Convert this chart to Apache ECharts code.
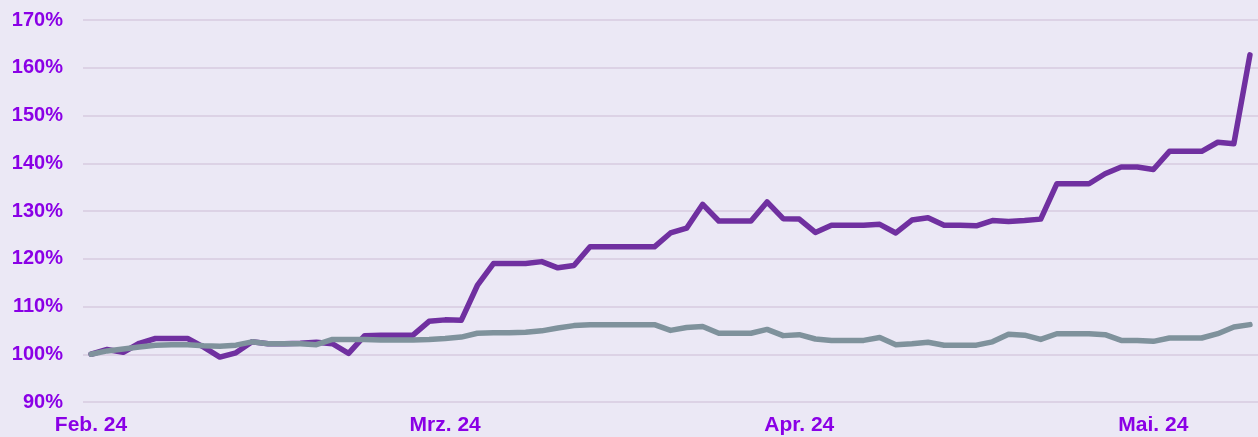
<!DOCTYPE html>
<html>
<head>
<meta charset="utf-8">
<style>
  html, body { margin: 0; padding: 0; background: #ebe8f5; }
  #chart { width: 1258px; height: 437px; }
</style>
<script src="https://cdn.jsdelivr.net/npm/echarts@6/dist/echarts.min.js"></script>
</head>
<body>
<div id="chart"></div>
<script>
// month labels and the category index where each month starts
const monthLabels = ['Feb. 24', 'Mrz. 24', 'Apr. 24', 'Mai. 24'];
const monthStart = [0, 22, 44, 66];

// index values (percent, start = 100)
const purpleValues = [
    100.0, 101.0, 100.4, 102.3, 103.3, 103.3, 103.3, 101.5, 99.4, 100.3,
    102.6, 102.2, 102.2, 102.3, 102.5, 102.2, 100.2, 103.9, 104.0, 104.0,
    104.0, 106.9, 107.2, 107.1, 114.4, 119.0, 119.0, 119.0, 119.4, 118.1,
    118.6, 122.5, 122.5, 122.5, 122.5, 122.5, 125.4, 126.4, 131.4, 127.9,
    127.9, 127.9, 131.9, 128.4, 128.3, 125.5, 127.0, 127.0, 127.0, 127.2,
    125.4, 128.1, 128.6, 127.0, 127.0, 126.9, 128.0, 127.8, 128.0, 128.3,
    135.7, 135.7, 135.7, 137.8, 139.2, 139.2, 138.7, 142.5, 142.5, 142.5,
    144.4, 144.1, 162.7
];
const grayValues = [
    100.0, 100.7, 101.1, 101.5, 101.9, 102.0, 102.0, 101.8, 101.7, 101.9,
    102.6, 102.2, 102.2, 102.2, 102.0, 103.1, 103.1, 103.1, 103.0, 103.0,
    103.0, 103.1, 103.3, 103.6, 104.4, 104.5, 104.5, 104.6, 104.9, 105.5,
    106.0, 106.2, 106.2, 106.2, 106.2, 106.2, 105.0, 105.6, 105.8, 104.4,
    104.4, 104.4, 105.2, 103.9, 104.1, 103.2, 102.9, 102.9, 102.9, 103.5,
    102.0, 102.2, 102.5, 101.9, 101.9, 101.9, 102.6, 104.2, 104.0, 103.1,
    104.3, 104.3, 104.3, 104.1, 102.9, 102.9, 102.7, 103.4, 103.4, 103.4,
    104.3, 105.7, 106.2
];

const categories = purpleValues.map((v, i) => String(i));

const chart = echarts.init(document.getElementById('chart'));

const labelFont = {
    color: '#8a00e6',
    fontFamily: 'Liberation Sans, Arial, sans-serif',
    fontWeight: 'bold'
};

const option = {
    backgroundColor: '#ebe8f5',
    animation: false,
    grid: {
        left: 83,
        right: 0,
        top: 20,
        bottom: 35
    },
    xAxis: {
        type: 'category',
        data: categories,
        boundaryGap: true,
        axisLine: { show: false },
        axisTick: { show: false },
        splitLine: { show: false },
        axisLabel: Object.assign({}, labelFont, {
            fontSize: 21,
            margin: 13,
            interval: (idx) => monthStart.includes(idx),
            formatter: (value, idx) => {
                const k = monthStart.indexOf(Number(value));
                return k >= 0 ? monthLabels[k] : '';
            }
        })
    },
    yAxis: {
        type: 'value',
        min: 90,
        max: 170,
        interval: 10,
        axisLine: { show: false },
        axisTick: { show: false },
        splitLine: { lineStyle: { color: '#dcd2e5', width: 2 } },
        axisLabel: Object.assign({}, labelFont, {
            fontSize: 20,
            margin: 20,
            formatter: '{value}%'
        })
    },
    series: [
        {
            type: 'line',
            data: purpleValues,
            showSymbol: false,
            lineStyle: { color: '#7030a0', width: 5.5, cap: 'round', join: 'round' }
        },
        {
            type: 'line',
            data: grayValues,
            showSymbol: false,
            lineStyle: { color: '#7f929c', width: 5.5, cap: 'round', join: 'round' }
        }
    ]
};

option && chart.setOption(option);
</script>
</body>
</html>
